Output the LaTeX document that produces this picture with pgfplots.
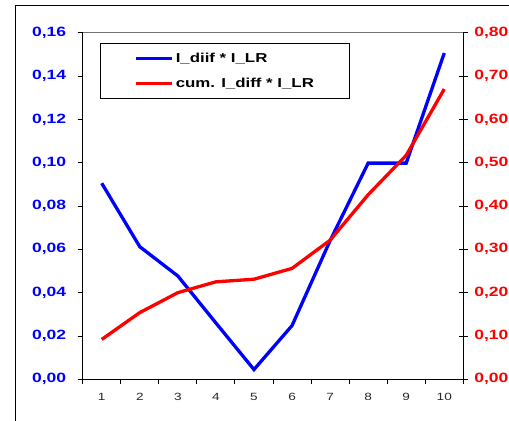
\documentclass[border=0pt]{standalone}
\usepackage{pgfplots}
\pgfplotsset{compat=1.18}
\usepackage{fontspec}
\setmainfont[FakeStretch=1.3]{Liberation Sans}
\begin{document}
\begin{tikzpicture}
\path[use as bounding box] (0,0) rectangle (509bp,421bp);
\draw[line width=1bp] (15bp,0bp) -- (15bp,415bp) -- (509bp,415bp);
\pgfplotsset{
  common/.style={
    at={(82.7bp,41.7bp)}, anchor=south west,
    scale only axis, width=380.6bp, height=346.6bp,
    xmin=0.5, xmax=10.5, ymin=0,
    /pgf/number format/assume math mode=true,
    /pgf/number format/.cd, fixed, fixed zerofill, precision=2, use comma, /pgfplots/.cd,
  }
}
\begin{axis}[common,
  ymax=0.16, ytick={0,0.02,...,0.16},
  axis x line*=bottom, axis y line*=left,
  axis line style={line width=0.9bp, -},
  tick style={line width=0.9bp, black},
  tick align=outside, major tick length=5bp,
  xtick={0.5,1.5,...,10.5},
  xticklabels={1,2,3,4,5,6,7,8,9,10,},
  xticklabel style={xshift=19.03bp, yshift=-5bp, font=\fontsize{10.5}{12}\selectfont, text=black!85},
  yticklabel style={font=\bfseries\fontsize{13.5}{15}\selectfont, text=blue, xshift=-8bp},
  legend style={at={(0.0455,0.971)}, anchor=north west, draw=black, line width=0.9bp,
    inner xsep=34bp, inner ysep=8bp, row sep=10bp,
    font=\bfseries\fontsize{13}{15}\selectfont},
  legend cell align=left,
  legend image code/.code={\draw[#1, line width=3.3bp] (0bp,0bp) -- (36bp,0bp);},
]
\addplot[blue, line width=3.3bp] coordinates {
  (1,0.0905)(2,0.0612)(3,0.0477)(4,0.026)(5,0.0045)(6,0.0248)(7,0.064)(8,0.0998)(9,0.0998)(10,0.1506)};
\addlegendentry{I\_diif * I\_LR}
\addlegendimage{red, line width=3.3bp}
\addlegendentry{cum. I\_diff * I\_LR}
\end{axis}
\begin{axis}[common,
  ymax=0.8, ytick={0,0.1,...,0.8},
  axis x line*=top, axis y line*=right,
  x axis line style={black!55, line width=0.6bp, -},
  y axis line style={black, line width=0.9bp, -},
  xtick=\empty,
  ytick align=center, major tick length=9bp,
  tick style={line width=0.9bp, black},
  yticklabel style={font=\bfseries\fontsize{13.5}{15}\selectfont, text=red, xshift=3bp},
]
\addplot[red, line width=3.3bp] coordinates {
  (1,0.092)(2,0.154)(3,0.200)(4,0.225)(5,0.231)(6,0.256)(7,0.321)(8,0.426)(9,0.517)(10,0.670)};
\end{axis}
\end{tikzpicture}
\end{document}
